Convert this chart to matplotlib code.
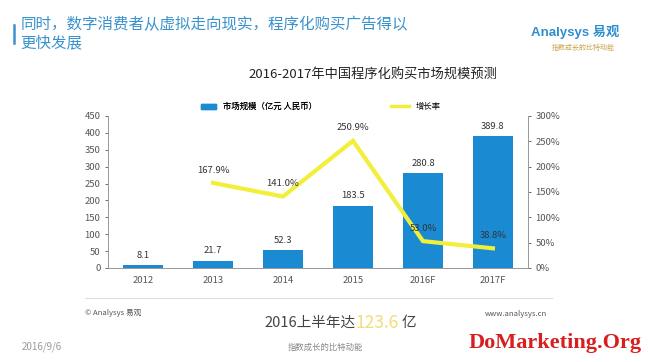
import matplotlib
matplotlib.use("Agg")
import matplotlib.pyplot as plt
from matplotlib.lines import Line2D
from matplotlib.patches import Patch

plt.rcParams['font.family'] = ['Noto Sans CJK SC', 'DejaVu Sans']

years = ["2012", "2013", "2014", "2015", "2016F", "2017F"]
market = [8.1, 21.7, 52.3, 183.5, 280.8, 389.8]
growth_years = [1, 2, 3, 4, 5]
growth = [167.9, 141.0, 250.9, 53.0, 38.8]

blue = "#1a8ad2"
yellow = "#f2ef3a"
grey = "#555555"

fig = plt.figure(figsize=(6.48, 3.62), dpi=100)
ax = fig.add_axes([0.1667, 0.2597, 0.648, 0.42])
x = range(len(years))
ax.bar(x, market, width=0.56, color=blue, zorder=2)
for i, v in enumerate(market):
    ax.annotate(f"{v}", (i, v), xytext=(0, 4), textcoords="offset points",
                ha="center", va="bottom", fontsize=6.8, color="#333333")
ax.set_xlim(-0.5, 5.5)
ax.set_ylim(0, 450)
ax.set_yticks(range(0, 451, 50))
ax.set_xticks(list(x))
ax.set_xticklabels(years)
ax.tick_params(labelsize=6.8, colors=grey, length=2, width=0.6)
ax.tick_params(axis="x", length=0, pad=6)
ax.spines["top"].set_visible(False)
for s in ["left", "bottom", "right"]:
    ax.spines[s].set_color("#9a9a9a")
    ax.spines[s].set_linewidth(0.7)

ax2 = ax.twinx()
ax2.plot(growth_years, growth, color=yellow, lw=3, zorder=3, solid_joinstyle="miter")
for xi, g in zip(growth_years, growth):
    ax2.annotate(f"{g:.1f}%", (xi, g), xytext=(0, 6), textcoords="offset points",
                 ha="center", va="bottom", fontsize=6.8, color="#333333")
ax2.set_ylim(0, 300)
ax2.set_yticks(range(0, 301, 50))
ax2.set_yticklabels([f"{t}%" for t in range(0, 301, 50)])
ax2.tick_params(labelsize=6.8, colors=grey, length=2, width=0.6)
ax2.spines["top"].set_visible(False)
for s in ["left", "bottom", "right"]:
    ax2.spines[s].set_color("#9a9a9a")
    ax2.spines[s].set_linewidth(0.7)

leg1 = fig.legend([Patch(color=blue)], ["市场规模（亿元 人民币）"], loc="center left",
                  bbox_to_anchor=(0.305, 0.705), frameon=False, fontsize=6,
                  handlelength=1.8, handleheight=0.5, borderaxespad=0)
fig.add_artist(leg1)
fig.legend([Line2D([], [], color=yellow, lw=2.5)], ["增长率"], loc="center left",
           bbox_to_anchor=(0.598, 0.705), frameon=False, fontsize=6,
           handlelength=2.2, borderaxespad=0)

fig.text(0.576, 0.793, "2016-2017年中国程序化购买市场规模预测", ha="center",
         va="center", fontsize=9.5, color="#222222")

# header
fig.text(0.032, 0.955, "同时，数字消费者从虚拟走向现实，程序化购买广告得以\n更快发展",
         ha="left", va="top", fontsize=11.2, color="#3a93cc", linespacing=1.05)
fig.add_artist(Line2D([0.022, 0.022], [0.88, 0.93], color="#3a93cc", lw=1.8))
fig.text(0.888, 0.912, "Analysys 易观", ha="center", va="center", fontsize=9.5,
         color="#2f8fcf", weight="bold", family=["Liberation Sans", "Noto Sans CJK SC"])
fig.text(0.900, 0.867, "指数成长的比特动能", ha="center", va="center", fontsize=5,
         color="#c9a24a")

# footer
fig.add_artist(Line2D([0.131, 0.852], [0.177, 0.177], color="#dddddd", lw=0.8))
fig.text(0.131, 0.135, "© Analysys 易观", ha="left", va="center", fontsize=5.5,
         color="#555555")
fig.text(0.844, 0.133, "www.analysys.cn", ha="right", va="center", fontsize=5.5,
         color="#555555")
fig.text(0.549, 0.108, "2016上半年达", ha="right", va="center", fontsize=10.5, color="#444444")
fig.text(0.549, 0.108, "123.6", ha="left", va="center", fontsize=12.5, color="#f0de78")
fig.text(0.620, 0.108, "亿", ha="left", va="center", fontsize=10.5, color="#444444")
fig.text(0.034, 0.041, "2016/9/6", ha="left", va="center", fontsize=7, color="#999999")
fig.text(0.502, 0.041, "指数成长的比特动能", ha="center", va="center", fontsize=6,
         color="#888888")
fig.text(0.991, 0.052, "DoMarketing.Org", ha="right", va="center", fontsize=16,
         color="#d81e1e", weight="bold", family=["Liberation Serif"])

fig.savefig("out.png", dpi=100, facecolor="white")
